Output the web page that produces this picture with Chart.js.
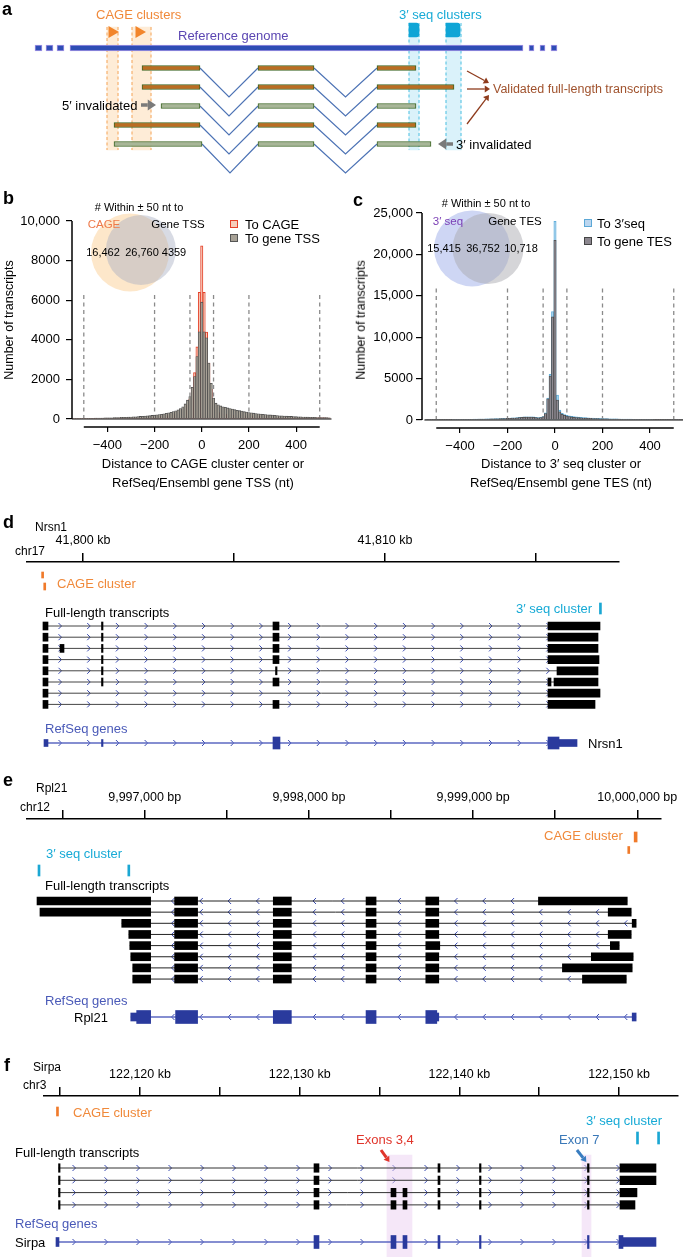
<!DOCTYPE html>
<html>
<head>
<meta charset="utf-8">
<script src="https://cdn.jsdelivr.net/npm/chart.js@4.4.1/dist/chart.umd.min.js"></script>
<style>
html, body { margin: 0; padding: 0; background: #fff; overflow: hidden; }
body { width: 683px; height: 1257px; position: relative; font-family: "Liberation Sans", Arial, Helvetica, sans-serif; }
canvas { position: absolute; }
.t { position: absolute; white-space: nowrap; line-height: 1; transform: translateY(-50%); }
.sq { position: absolute; box-sizing: border-box; }
</style>
</head>
<body>
<canvas id="cA" width="683" height="190" style="left:0;top:0"></canvas>
<canvas id="cB" width="345" height="270" style="left:0;top:195px"></canvas>
<canvas id="cC" width="345" height="270" style="left:345px;top:195px"></canvas>
<canvas id="cD" width="683" height="232" style="left:0;top:528px"></canvas>
<canvas id="cE" width="683" height="260" style="left:0;top:775px"></canvas>
<canvas id="cF" width="683" height="207" style="left:0;top:1050px"></canvas>
<script>
Chart.defaults.font.family = '"Liberation Sans", Arial, Helvetica, sans-serif';
Chart.defaults.color = '#000';

// ---------- panel a: schematic (positions in schematic units) ----------
const genomeBar = [[70, 523]];
const genomeDashes = [[35, 42], [46, 53], [57, 64], [529, 534], [540, 545], [551, 557]];
const cageBands = [[107, 118], [132, 151]];
const seqBands = [[409, 419], [446, 461]];
const cageTriangles = [112, 139];
const seqMarkers = [[409, 419], [446, 460]];
const schemeTranscripts = [
  [[142, 200], [258, 314], [377, 416]],
  [[142, 200], [258, 314], [377, 454]],
  [[161, 200], [258, 314], [377, 416]],
  [[114, 200], [258, 314], [377, 416]],
  [[114, 202], [258, 314], [377, 431]]
];
const schemeValidated = [true, true, false, true, false];
const schemeArrows = [
  {from: [141, 105], to: [156, 105], color: '#7a7a7a', width: 3.5, head: 5.5},
  {from: [453, 144], to: [438, 144], color: '#7a7a7a', width: 3.5, head: 5.5},
  {from: [467, 71], to: [489, 83], color: '#8e3b1c', width: 1.3, head: 3.5},
  {from: [467, 89], to: [490, 89], color: '#8e3b1c', width: 1.3, head: 3.5},
  {from: [467, 124], to: [489, 95], color: '#8e3b1c', width: 1.3, head: 3.5}
];

// ---------- panels b, c: histograms (10 nt bins) ----------
const binCenters = Array.from({length: 109}, (_, i) => -540 + 10 * i);
const distTicks = [-400, -200, 0, 200, 400];
const dashPositions = [-500, -200, -50, 50, 200, 500];
const cageYTicks = [0, 2000, 4000, 6000, 8000, 10000];
const seqYTicks = [0, 5000, 10000, 15000, 20000, 25000];

const tssCounts = [
  25, 27, 28, 30, 32, 34, 36, 38, 40, 42,
  45, 48, 51, 54, 57, 60, 64, 68, 72, 76,
  80, 85, 90, 96, 102, 108, 115, 122, 130, 138,
  147, 157, 168, 180, 193, 207, 222, 240, 260, 283,
  310, 340, 375, 415, 460, 530, 620, 760, 950, 1130,
  1600, 2140, 3150, 4400, 5900, 4400, 4100, 2830, 1800, 1060,
  800, 720, 660, 620, 590, 560, 530, 500, 470, 440,
  420, 400, 370, 350, 330, 310, 295, 280, 265, 250,
  240, 228, 216, 205, 195, 185, 175, 165, 158, 150,
  143, 136, 130, 124, 118, 112, 107, 102, 98, 94,
  90, 86, 82, 78, 75, 72, 69, 66, 63
];
const cageCounts = [
  15, 15, 16, 17, 18, 19, 20, 21, 22, 23,
  25, 26, 28, 30, 31, 33, 35, 37, 40, 42,
  44, 47, 50, 53, 56, 60, 63, 67, 72, 76,
  81, 87, 93, 100, 107, 115, 123, 133, 145, 158,
  172, 190, 210, 235, 265, 310, 380, 480, 700, 1000,
  1560, 2340, 3650, 6400, 8740, 6400, 4390, 2830, 1500, 900,
  450, 340, 290, 260, 240, 225, 212, 200, 192, 185,
  178, 172, 166, 160, 155, 150, 145, 140, 135, 130,
  126, 122, 118, 114, 110, 106, 102, 99, 96, 93,
  90, 87, 84, 81, 78, 76, 74, 72, 70, 68,
  66, 64, 62, 60, 58, 56, 54, 52, 50
];
const seq3Counts = [
  40, 40, 42, 44, 45, 47, 48, 50, 52, 55,
  57, 60, 62, 65, 68, 72, 75, 80, 85, 90,
  95, 100, 105, 110, 118, 125, 132, 140, 150, 160,
  170, 180, 190, 200, 215, 230, 250, 270, 300, 330,
  360, 380, 390, 395, 390, 370, 330, 300, 320, 420,
  850, 2650, 5500, 13100, 24000, 3000, 1200, 800, 650, 560,
  500, 450, 410, 380, 350, 320, 300, 280, 260, 245,
  230, 215, 200, 190, 180, 170, 160, 150, 142, 135,
  128, 122, 116, 110, 105, 100, 96, 92, 88, 84,
  80, 77, 74, 71, 68, 65, 62, 60, 58, 56,
  54, 52, 50, 48, 46, 44, 42, 40, 38
];
const tesCounts = [
  35, 36, 38, 40, 41, 43, 44, 46, 48, 50,
  52, 54, 56, 59, 62, 65, 68, 72, 76, 80,
  85, 90, 95, 100, 106, 112, 118, 125, 133, 142,
  150, 160, 170, 180, 192, 205, 220, 240, 265, 290,
  320, 340, 350, 355, 350, 335, 300, 275, 290, 380,
  780, 2550, 5300, 12450, 21700, 2400, 1000, 700, 560, 470,
  410, 370, 335, 305, 280, 258, 240, 222, 207, 194,
  182, 170, 160, 151, 143, 135, 128, 121, 115, 109,
  104, 99, 94, 90, 86, 82, 78, 75, 72, 69,
  66, 63, 61, 58, 56, 54, 52, 50, 48, 46,
  44, 42, 41, 39, 38, 36, 35, 34, 33
];
const cageVennCounts = ['16,462', '26,760', '4359'];
const seqVennCounts = ['15,415', '36,752', '10,718'];

// ---------- panel d: Nrsn1, chr17 (kb) ----------
const nrsn1Ticks = [41800, 41805, 41810, 41815];
const nrsn1TickLabels = ['41,800 kb', '', '41,810 kb', ''];
const nrsn1Cage = [[41798.63, 41798.66], [41798.70, 41798.73]];
const nrsn1Seq3 = [[41817.10, 41817.14]];
const nrsn1Transcripts = [
  [[41798.675, 41798.841], [41800.613, 41800.646], [41806.291, 41806.490], [41815.397, 41817.119]],
  [[41798.675, 41798.841], [41800.613, 41800.646], [41806.291, 41806.490], [41815.397, 41817.053]],
  [[41798.675, 41798.841], [41799.238, 41799.371], [41800.613, 41800.646], [41806.291, 41806.490], [41815.397, 41817.053]],
  [[41798.675, 41798.841], [41800.613, 41800.646], [41806.291, 41806.490], [41815.397, 41817.086]],
  [[41798.675, 41798.841], [41800.613, 41800.646], [41806.375, 41806.408], [41815.695, 41817.053]],
  [[41798.675, 41798.841], [41800.613, 41800.646], [41806.291, 41806.490], [41815.397, 41815.497], [41815.596, 41817.053]],
  [[41798.675, 41798.841], [41815.397, 41817.119]],
  [[41798.675, 41798.841], [41806.291, 41806.490], [41815.397, 41816.954]]
];
const nrsn1RefCds = [[41806.291, 41806.523], [41815.397, 41815.762]];
const nrsn1RefUtr = [[41798.709, 41798.841], [41800.613, 41800.646], [41815.762, 41816.358]];

// ---------- panel e: Rpl21, chr12 (bp) ----------
const rpl21Ticks = [9996500, 9997000, 9997500, 9998000, 9998500, 9999000, 9999500, 10000000];
const rpl21TickLabels = ['', '9,997,000 bp', '', '9,998,000 bp', '', '9,999,000 bp', '', '10,000,000 bp'];
const rpl21CageMain = [[9999981, 9999999]];
const rpl21CageMinor = [[9999942, 9999948]];
const rpl21Seq3 = [[9996350, 9996362], [9996897, 9996909]];
const rpl21Transcripts = [
  [[9996344, 9997036], [9997182, 9997322], [9997783, 9997893], [9998348, 9998409], [9998712, 9998791], [9999398, 9999939]],
  [[9996362, 9997036], [9997182, 9997322], [9997783, 9997893], [9998348, 9998409], [9998712, 9998791], [9999823, 9999963]],
  [[9996860, 9997036], [9997182, 9997322], [9997783, 9997893], [9998348, 9998409], [9998712, 9998791], [9999969, 9999993]],
  [[9996903, 9997036], [9997182, 9997322], [9997783, 9997893], [9998348, 9998409], [9998712, 9998791], [9999823, 9999963]],
  [[9996909, 9997036], [9997182, 9997322], [9997783, 9997893], [9998348, 9998409], [9998712, 9998797], [9999836, 9999890]],
  [[9996915, 9997036], [9997182, 9997322], [9997783, 9997893], [9998348, 9998409], [9998712, 9998791], [9999720, 9999975]],
  [[9996927, 9997036], [9997182, 9997322], [9997783, 9997893], [9998348, 9998409], [9998712, 9998791], [9999544, 9999969]],
  [[9996927, 9997036], [9997182, 9997322], [9997783, 9997893], [9998348, 9998409], [9998712, 9998791], [9999666, 9999933]]
];
const rpl21RefCds = [[9996951, 9997036], [9997188, 9997322], [9997783, 9997893], [9998348, 9998409], [9998712, 9998779]];
const rpl21RefUtr = [[9996915, 9996951], [9998779, 9998791], [9999969, 9999993]];

// ---------- panel f: Sirpa, chr3 (kb) ----------
const sirpaTicks = [122115, 122120, 122125, 122130, 122135, 122140, 122145, 122150];
const sirpaTickLabels = ['', '122,120 kb', '', '122,130 kb', '', '122,140 kb', '', '122,150 kb'];
const sirpaCage = [[122114.77, 122114.83]];
const sirpaSeq3 = [[122151.09, 122151.15], [122152.41, 122152.47]];
const sirpaHighlights = [[122135.467, 122137.032], [122147.677, 122148.241]];
const sirpaTranscripts = [
  [[122114.90, 122114.96], [122130.896, 122131.208], [122138.660, 122138.785], [122141.26, 122141.35], [122148.02, 122148.12], [122150.056, 122152.311]],
  [[122114.90, 122114.96], [122130.896, 122131.208], [122138.660, 122138.785], [122141.26, 122141.35], [122148.02, 122148.12], [122150.056, 122152.311]],
  [[122114.90, 122114.96], [122130.896, 122131.208], [122135.717, 122136.030], [122136.468, 122136.719], [122138.660, 122138.785], [122141.26, 122141.35], [122148.02, 122148.12], [122150.056, 122151.120]],
  [[122114.90, 122114.96], [122130.896, 122131.208], [122135.717, 122136.030], [122136.468, 122136.719], [122138.660, 122138.785], [122141.26, 122141.35], [122148.02, 122148.12], [122150.056, 122150.995]]
];
const sirpaRefCds = [[122130.896, 122131.208], [122135.717, 122136.030], [122136.468, 122136.719], [122138.660, 122138.785], [122141.26, 122141.35], [122148.02, 122148.12], [122149.994, 122150.244]];
const sirpaRefUtr = [[122114.740, 122114.928], [122150.244, 122152.311]];
const sirpaArrows = [
  {from: [122135.09, 54], to: [122135.62, 66], color: '#e0352b', width: 3, head: 3.5},
  {from: [122147.36, 54], to: [122147.95, 66], color: '#3a7dc0', width: 3, head: 3.5}
];

// ---------- colours ----------
const CAGE_C = '#f07a2a', SEQ_C = '#1ba7d3', REF_C = '#2a3a9d', REF_LINE = '#5c68c2', CHEV_C = '#3a4bb0';

// ---------- helpers ----------
function txt(s, x, y, o = {}) {
  const d = document.createElement('div');
  d.className = 't';
  d.textContent = s;
  d.style.left = x + 'px';
  d.style.top = y + 'px';
  d.style.fontSize = (o.size || 13) + 'px';
  if (o.color) d.style.color = o.color;
  if (o.bold) d.style.fontWeight = 'bold';
  if (o.center) d.style.transform = 'translate(-50%,-50%)';
  if (o.rot) d.style.transform = 'translate(-50%,-50%) rotate(-90deg)';
  document.body.appendChild(d);
}
function sq(x, y, s, fill, border) {
  const d = document.createElement('div');
  d.className = 'sq';
  Object.assign(d.style, {left: x + 'px', top: y + 'px', width: s + 'px', height: s + 'px', background: fill, border: '1.3px solid ' + border});
  document.body.appendChild(d);
}
function bars(ranges, lane, h, color, extra) {
  return Object.assign({
    type: 'bar', data: ranges.map(r => ({y: lane, x: r})), barThickness: h,
    backgroundColor: color, borderWidth: 0, stack: 'lane', minBarLength: 1.5, order: 1
  }, extra);
}
function seg(points, color, w, extra) {
  return Object.assign({
    type: 'line', indexAxis: 'x', data: points.map(p => ({x: p[0], y: p[1]})),
    borderColor: color, borderWidth: w, pointRadius: 0, fill: false, order: 5
  }, extra);
}
const base = {responsive: false, animation: false, events: []};

const chevronPlugin = {
  id: 'chevrons',
  beforeDatasetsDraw(chart, args, opts) {
    if (!opts || !opts.step) return;
    const ctx = chart.ctx, xs = chart.scales.x, ys = chart.scales.y;
    ctx.save();
    ctx.lineWidth = 1;
    chart.data.datasets.forEach(ds => {
      if (!ds.chevron) return;
      const x0 = xs.getPixelForValue(ds.data[0].x);
      const x1 = xs.getPixelForValue(ds.data[ds.data.length - 1].x);
      const y = ys.getPixelForValue(ds.data[0].y);
      const d = ds.chevron;
      ctx.strokeStyle = CHEV_C;
      for (let p = opts.start; p < x1 - 3; p += opts.step) {
        if (p < x0 + 3) continue;
        ctx.beginPath();
        ctx.moveTo(p - 1.5 * d, y - 3);
        ctx.lineTo(p + 1.5 * d, y);
        ctx.lineTo(p - 1.5 * d, y + 3);
        ctx.stroke();
      }
    });
    ctx.restore();
  }
};
const arrowPlugin = {
  id: 'arrows',
  afterDatasetsDraw(chart, args, opts) {
    const items = (opts && opts.items) || [];
    const ctx = chart.ctx, xs = chart.scales.x, ys = chart.scales.y;
    items.forEach(a => {
      const x0 = xs.getPixelForValue(a.from[0]), y0 = ys.getPixelForValue(a.from[1]);
      const x1 = xs.getPixelForValue(a.to[0]), y1 = ys.getPixelForValue(a.to[1]);
      const ang = Math.atan2(y1 - y0, x1 - x0), h = a.head;
      const bx = x1 - Math.cos(ang) * h * 1.5, by = y1 - Math.sin(ang) * h * 1.5;
      ctx.save();
      ctx.strokeStyle = a.color; ctx.fillStyle = a.color; ctx.lineWidth = a.width;
      ctx.beginPath(); ctx.moveTo(x0, y0); ctx.lineTo(bx, by); ctx.stroke();
      ctx.beginPath(); ctx.moveTo(x1, y1);
      ctx.lineTo(bx + Math.sin(ang) * h, by - Math.cos(ang) * h);
      ctx.lineTo(bx - Math.sin(ang) * h, by + Math.cos(ang) * h);
      ctx.closePath(); ctx.fill();
      ctx.restore();
    });
  }
};

// ---------- panel a ----------
const LA = {rowY: 68, rowGap: 19, exonH: 5, vee: 29, genomeY: 48, bandTop: 27, bandBottom: 150, triY: 32, markY: 30};
(function () {
  const ds = [];
  const bandMid = (LA.bandTop + LA.bandBottom) / 2, bandH = LA.bandBottom - LA.bandTop;
  ds.push(bars(cageBands, bandMid, bandH, 'rgba(253,210,160,0.42)', {order: 20, minBarLength: 0}));
  ds.push(bars(seqBands, bandMid, bandH, 'rgba(140,214,240,0.32)', {order: 20, minBarLength: 0}));
  cageBands.forEach(b => b.forEach(x => ds.push(seg([[x, LA.bandTop], [x, LA.bandBottom]], '#f4a458', 1, {borderDash: [3, 2.5], order: 15}))));
  seqBands.forEach(b => b.forEach(x => ds.push(seg([[x, LA.bandTop - 4], [x, LA.bandBottom]], '#4cc0e2', 1, {borderDash: [3, 2.5], order: 15}))));
  ds.push(bars(genomeBar.concat(genomeDashes), LA.genomeY, 6, '#2e4db5', {borderColor: '#a394e6', borderWidth: 1, borderSkipped: false, order: 6}));
  schemeTranscripts.forEach((tr, i) => {
    const y = LA.rowY + i * LA.rowGap;
    for (let j = 0; j < tr.length - 1; j++) {
      const a = tr[j][1], b = tr[j + 1][0];
      ds.push(seg([[a, y], [(a + b) / 2, y + LA.vee], [b, y]], '#4d73b5', 1.2, {order: 8}));
    }
    ds.push(bars(tr, y, LA.exonH, schemeValidated[i] ? '#bb6d22' : '#a8b698',
      {borderColor: '#3a6420', borderWidth: 1, borderSkipped: false, order: 2}));
  });
  ds.push(Object.assign(seg(cageTriangles.map(x => [x, LA.triY]), '#f2852b', 0, {order: 0}),
    {showLine: false, pointStyle: 'triangle', pointRotation: 90, pointRadius: 7, pointBackgroundColor: '#f2852b', pointBorderWidth: 0}));
  ds.push(bars(seqMarkers, LA.markY, 14, '#0fa5d6', {borderRadius: 3, order: 0}));
  new Chart(document.getElementById('cA'), {
    type: 'bar',
    data: {datasets: ds},
    options: Object.assign({}, base, {
      indexAxis: 'y',
      layout: {padding: 0, autoPadding: false},
      scales: {
        x: {type: 'linear', min: 0, max: 683, display: false, stacked: false, offset: false},
        y: {type: 'linear', min: 0, max: 190, reverse: true, display: false, offset: false}
      },
      plugins: {legend: {display: false}, tooltip: {enabled: false}, arrows: {items: schemeArrows}}
    }),
    plugins: [arrowPlugin]
  });
})();

// ---------- panels b, c ----------
const fmtDist = v => v < 0 ? '\u2212' + (-v) : String(v);
const fmtCount = v => v >= 10000 ? v.toLocaleString('en-US') : String(v);
function histChart(id, L) {
  const xy = arr => arr.map((v, i) => ({x: binCenters[i], y: v}));
  const ds = [
    {type: 'bar', label: L.labels[1], data: xy(L.front), backgroundColor: L.frontFill, borderColor: L.frontBorder, borderWidth: 0.8,
      borderSkipped: false, grouped: false, barPercentage: 1, categoryPercentage: 1, order: 2},
    {type: 'bar', label: L.labels[0], data: xy(L.back), backgroundColor: L.backFill, borderColor: L.backBorder, borderWidth: 1,
      borderSkipped: false, grouped: false, barPercentage: 1, categoryPercentage: 1, order: 3},
    seg([[-550, 0], [550, 0]], '#5a5a5a', 1.3, {order: 1, clip: false}),
    seg([[-500, L.yMin], [500, L.yMin]], '#000', 1.5, {order: 0, clip: false}),
    seg([[L.xMin, 0], [L.xMin, L.yMax]], '#000', 1.5, {order: 0, clip: false}),
    {type: 'bubble', data: [{x: L.venn[0][0], y: L.venn[0][1]}], radius: L.venn[0][2], backgroundColor: L.vennColors[0], borderWidth: 0, order: 9, clip: false},
    {type: 'bubble', data: [{x: L.venn[1][0], y: L.venn[1][1]}], radius: L.venn[1][2], backgroundColor: L.vennColors[1], borderWidth: 0, order: 8, clip: false}
  ];
  dashPositions.forEach(x => ds.push(seg([[x, 0], [x, L.dashTop]], '#8a8a8a', 1.3, {borderDash: [4, 3.5], order: 4})));
  new Chart(document.getElementById(id), {
    type: 'bar',
    data: {datasets: ds},
    options: Object.assign({}, base, {
      layout: {padding: {left: 0, right: L.padRight, top: L.padTop, bottom: 0}, autoPadding: false},
      scales: {
        x: {type: 'linear', min: L.xMin, max: L.xMax, offset: false,
          grid: {offset: false, drawOnChartArea: false, drawTicks: true, tickLength: 5, color: '#000', lineWidth: 1.2},
          border: {display: false},
          afterBuildTicks: s => { s.ticks = distTicks.map(v => ({value: v})); },
          afterFit: s => { s.height = L.xAxisH; },
          ticks: {autoSkip: false, maxRotation: 0, padding: 6, font: {size: 13}, color: '#000', callback: v => fmtDist(v)}},
        y: {type: 'linear', min: L.yMin, max: L.yMax,
          grid: {drawOnChartArea: false, drawTicks: true, tickLength: 6, color: '#000', lineWidth: 1.2},
          border: {display: false},
          afterBuildTicks: s => { s.ticks = L.yTicks.map(v => ({value: v})); },
          afterFit: s => { s.width = L.yAxisW; },
          ticks: {padding: L.yPad, font: {size: 13}, color: '#000', callback: v => fmtCount(v)}}
      },
      plugins: {legend: {display: false}, tooltip: {enabled: false}}
    })
  });
}
histChart('cB', {
  front: tssCounts, back: cageCounts, labels: ['To CAGE', 'To gene TSS'],
  frontFill: '#a7a196', frontBorder: '#4f4f4f', backFill: '#f6cdbb', backBorder: '#e5412a',
  xMin: -550, xMax: 550, yMin: -404, yMax: 10000, yTicks: cageYTicks, dashTop: 6400,
  padRight: 13.5, padTop: 26, xAxisH: 38, yAxisW: 72, yPad: 6,
  venn: [[-304, 8409, 39], [-258, 8535, 35]], vennColors: ['rgba(252,212,158,0.55)', 'rgba(168,176,196,0.45)']
});
histChart('cC', {
  front: tesCounts, back: seq3Counts, labels: ['To 3\u2032seq', 'To gene TES'],
  frontFill: '#8f8a92', frontBorder: '#4a4a4a', backFill: '#a8d3ec', backBorder: '#62b0dc',
  xMin: -560, xMax: 560, yMin: -968, yMax: 25000, yTicks: seqYTicks, dashTop: 16300,
  padRight: 2, padTop: 18, xAxisH: 37, yAxisW: 77, yPad: 3,
  venn: [[-349, 20723, 38], [-282, 20723, 35.5]], vennColors: ['rgba(165,180,235,0.55)', 'rgba(172,172,178,0.5)']
});

// ---------- panels d, e, f ----------
function trackChart(id, L, marks, transcripts, refCds, refUtr, highlights, arrows) {
  const ds = [];
  (highlights || []).forEach(h => ds.push(bars(h.ranges, h.lane, h.h, h.color, {order: 10, minBarLength: 0})));
  marks.forEach(m => ds.push(bars(m.ranges, m.lane, m.h, m.color, {minBarLength: 2, order: 1})));
  transcripts.forEach((tr, i) => {
    const lane = L.row0 + i * L.rowGap;
    ds.push(seg([[tr[0][0], lane], [tr[tr.length - 1][1], lane]], L.intronColor, 1, {chevron: L.strand}));
    ds.push(bars(tr, lane, L.exonH, '#000'));
  });
  const all = refCds.concat(refUtr);
  const r0 = Math.min(...all.map(r => r[0])), r1 = Math.max(...all.map(r => r[1]));
  ds.push(seg([[r0, L.refLane], [r1, L.refLane]], REF_LINE, 1.5, {chevron: L.strand}));
  ds.push(bars(refCds, L.refLane, L.cdsH, REF_C));
  ds.push(bars(refUtr, L.refLane, L.utrH, REF_C));
  new Chart(document.getElementById(id), {
    type: 'bar',
    data: {datasets: ds},
    options: Object.assign({}, base, {
      indexAxis: 'y',
      layout: {padding: {left: L.left, right: L.padRight, top: 0, bottom: 0}, autoPadding: false},
      scales: {
        x: {type: 'linear', position: 'top', min: L.xMin, max: L.xMax, stacked: false, offset: false,
          afterBuildTicks: s => { s.ticks = L.ticks.map(v => ({value: v})); },
          afterFit: s => { s.height = L.axisH; },
          border: {display: true, color: '#000', width: 1.5},
          grid: {drawOnChartArea: false, drawTicks: true, tickLength: 9, color: '#000', lineWidth: 1.5},
          ticks: {autoSkip: false, maxRotation: 0, padding: 5, font: {size: 12.5}, color: '#000', callback: (v, i) => L.tickLabels[i]}},
        y: {type: 'linear', min: 0, max: L.yMax, reverse: true, display: false, offset: false}
      },
      plugins: {legend: {display: false}, tooltip: {enabled: false},
        chevrons: {start: L.chevStart, step: L.chevStep}, arrows: {items: arrows || []}}
    }),
    plugins: [chevronPlugin, arrowPlugin]
  });
}

trackChart('cD', {
  axisH: 34, left: 27, padRight: 64, xMin: 41798.146, xMax: 41817.748, ticks: nrsn1Ticks, tickLabels: nrsn1TickLabels,
  yMax: 198, row0: 64, rowGap: 11.2, exonH: 8, refLane: 181, cdsH: 12, utrH: 7, intronColor: '#454545',
  strand: 1, chevStart: 60, chevStep: 28.7
}, [
  {ranges: nrsn1Cage.slice(0, 1), lane: 13, h: 6, color: CAGE_C},
  {ranges: nrsn1Cage.slice(1), lane: 24.5, h: 7, color: CAGE_C},
  {ranges: nrsn1Seq3, lane: 46.5, h: 11, color: SEQ_C}
], nrsn1Transcripts, nrsn1RefCds, nrsn1RefUtr);

trackChart('cE', {
  axisH: 44, left: 27, padRight: 20, xMin: 9996283, xMax: 10000145, ticks: rpl21Ticks, tickLabels: rpl21TickLabels,
  yMax: 216, row0: 82, rowGap: 11.15, exonH: 8, refLane: 198, cdsH: 13, utrH: 8, intronColor: '#222',
  strand: -1, chevStart: 31.5, chevStep: 28.3
}, [
  {ranges: rpl21CageMain, lane: 18, h: 10, color: CAGE_C},
  {ranges: rpl21CageMinor, lane: 31, h: 7, color: CAGE_C},
  {ranges: rpl21Seq3, lane: 51.5, h: 11, color: SEQ_C}
], rpl21Transcripts, rpl21RefCds, rpl21RefUtr);

trackChart('cF', {
  axisH: 46, left: 44, padRight: 5, xMin: 122113.989, xMax: 122153.689, ticks: sirpaTicks, tickLabels: sirpaTickLabels,
  yMax: 161, row0: 72, rowGap: 12.3, exonH: 8.5, refLane: 146, cdsH: 13, utrH: 9, intronColor: '#333',
  strand: 1, chevStart: 74, chevStep: 32
}, [
  {ranges: sirpaCage, lane: 15.5, h: 9, color: CAGE_C},
  {ranges: sirpaSeq3, lane: 42, h: 12, color: SEQ_C}
], sirpaTranscripts, sirpaRefCds, sirpaRefUtr,
[{ranges: sirpaHighlights, lane: 110, h: 102, color: 'rgba(236,208,242,0.5)'}], sirpaArrows);

// ---------- text ----------
// a
txt('a', 2, 9, {size: 18, bold: true});
txt('CAGE clusters', 96, 14, {color: '#f0893a'});
txt('3\u2032 seq clusters', 399, 14, {color: '#17aad6'});
txt('Reference genome', 178, 35, {color: '#5b46b2'});
txt('Validated full-length transcripts', 493, 89, {color: '#a0522d', size: 12.5});
txt('5\u2032 invalidated', 62, 105);
txt('3\u2032 invalidated', 456, 144);
// b
txt('b', 3, 198, {size: 18, bold: true});
txt('# Within \u00b1 50 nt to', 139, 207, {size: 11, center: true});
txt('CAGE', 104, 225, {size: 11.5, color: '#ee7a4a', center: true});
txt('Gene TSS', 178, 225, {size: 11.5, center: true});
txt(cageVennCounts[0], 103, 252, {size: 11, center: true});
txt(cageVennCounts[1], 142, 252, {size: 11, center: true});
txt(cageVennCounts[2], 174, 252, {size: 11, center: true});
sq(230, 219.5, 8, '#f6cdbb', '#e5412a');
txt('To CAGE', 245, 223.5, {size: 13});
sq(230, 233.5, 8, '#a7a196', '#555');
txt('To gene TSS', 245, 237.5, {size: 13});
txt('Number of transcripts', 9, 320, {rot: true, size: 12.5});
txt('Distance to CAGE cluster center or', 203, 463, {center: true});
txt('RefSeq/Ensembl gene TSS (nt)', 203, 482, {center: true});
// c
txt('c', 353, 200, {size: 18, bold: true});
txt('# Within \u00b1 50 nt to', 486, 203, {size: 11, center: true});
txt('3\u2032 seq', 448, 222, {size: 11.5, color: '#7b3fb5', center: true});
txt('Gene TES', 515, 222, {size: 11.5, center: true});
txt(seqVennCounts[0], 444, 248, {size: 11, center: true});
txt(seqVennCounts[1], 483, 248, {size: 11, center: true});
txt(seqVennCounts[2], 521, 248, {size: 11, center: true});
sq(584, 219, 8, '#bcd6ef', '#5ca8d6');
txt('To 3\u2032seq', 597, 223, {size: 13});
sq(584, 237, 8, '#8c878f', '#444');
txt('To gene TES', 597, 241, {size: 13});
txt('Number of transcripts', 361, 320, {rot: true, size: 12.5});
txt('Distance to 3\u2032 seq cluster or', 561, 463, {center: true});
txt('RefSeq/Ensembl gene TES (nt)', 561, 482, {center: true});
// d
txt('d', 3, 522, {size: 18, bold: true});
txt('Nrsn1', 35, 527, {size: 12});
txt('chr17', 15, 551, {size: 12});
txt('CAGE cluster', 57, 583, {color: '#f0893a'});
txt('Full-length transcripts', 45, 612);
txt('3\u2032 seq cluster', 516, 608, {color: '#17aad6'});
txt('RefSeq genes', 45, 728, {color: '#4a5ab8'});
txt('Nrsn1', 588, 743);
// e
txt('e', 3, 780, {size: 18, bold: true});
txt('Rpl21', 36, 788, {size: 12});
txt('chr12', 20, 807, {size: 12});
txt('CAGE cluster', 544, 835, {color: '#f0893a'});
txt('3\u2032 seq cluster', 46, 853, {color: '#17aad6'});
txt('Full-length transcripts', 45, 885);
txt('RefSeq genes', 45, 1000, {color: '#4a5ab8'});
txt('Rpl21', 74, 1017);
// f
txt('f', 4, 1065, {size: 18, bold: true});
txt('Sirpa', 33, 1067, {size: 12});
txt('chr3', 23, 1085, {size: 12});
txt('CAGE cluster', 73, 1112, {color: '#f0893a'});
txt('3\u2032 seq cluster', 586, 1120, {color: '#17aad6'});
txt('Exons 3,4', 356, 1139, {color: '#e0352b'});
txt('Exon 7', 559, 1139, {color: '#3a78b8'});
txt('Full-length transcripts', 15, 1152);
txt('RefSeq genes', 15, 1223, {color: '#4a5ab8'});
txt('Sirpa', 15, 1242);
</script>
</body>
</html>
